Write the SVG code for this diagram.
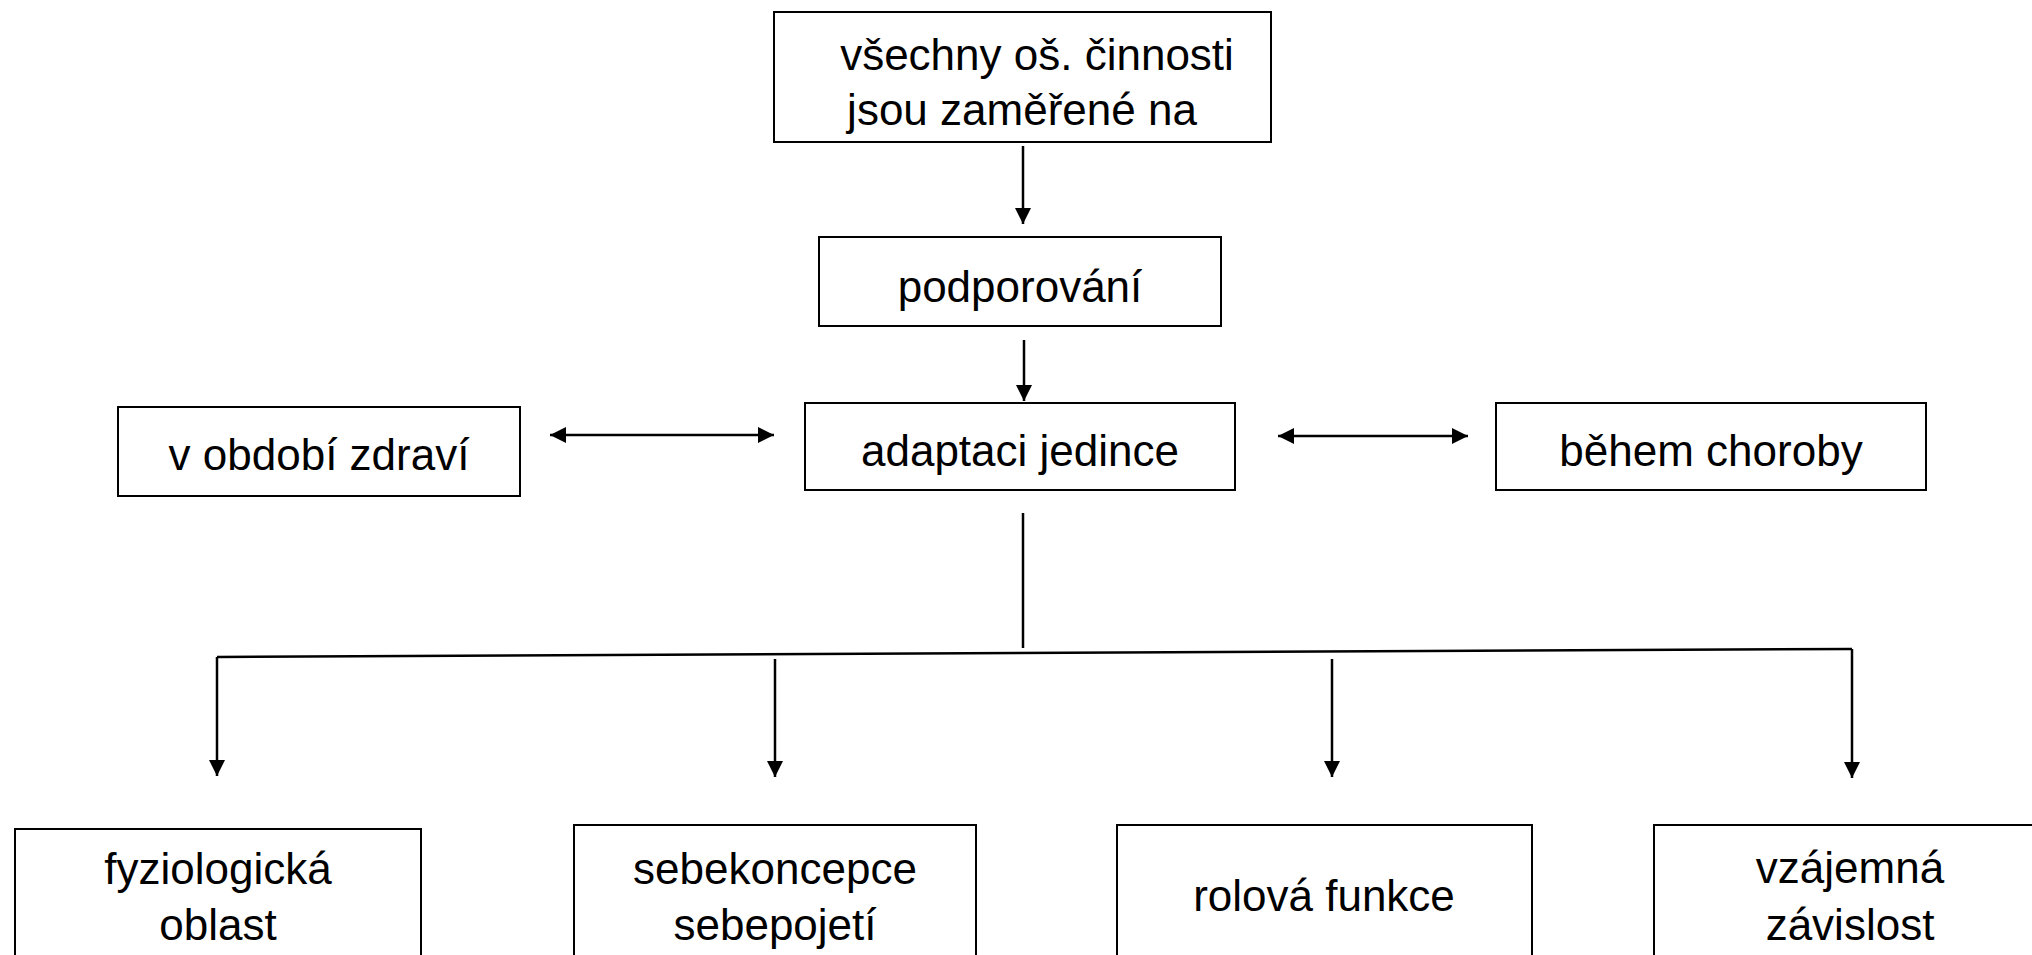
<svg xmlns="http://www.w3.org/2000/svg" width="2032" height="955" viewBox="0 0 2032 955">
<style>
.box{fill:#fff;stroke:#000;stroke-width:2}
.t{font-family:"Liberation Sans",Arial,sans-serif;font-size:44px;fill:#000;text-anchor:middle}
.c{stroke:#000;stroke-width:2.5;fill:none}
.a{marker-end:url(#ah)}
.d{marker-start:url(#ah);marker-end:url(#ah)}
</style>
<defs>
<marker id="ah" viewBox="0 0 16 16" refX="16" refY="8" markerWidth="16" markerHeight="16" markerUnits="userSpaceOnUse" orient="auto-start-reverse">
<path d="M0,0 L16,8 L0,16 z" fill="#000"/>
</marker>
</defs>
<rect width="2032" height="955" fill="#fff"/>
<g id="connectors">
<line class="c a" x1="1023" y1="146" x2="1023" y2="224"/>
<line class="c a" x1="1024" y1="340" x2="1024" y2="401"/>
<line class="c d" x1="550" y1="435" x2="774" y2="435"/>
<line class="c d" x1="1278" y1="436" x2="1468" y2="436"/>
<line class="c" x1="1023" y1="513" x2="1023" y2="648"/>
<line class="c" x1="217" y1="657" x2="1852" y2="649"/>
<line class="c a" x1="217" y1="657" x2="217" y2="776"/>
<line class="c a" x1="775" y1="659" x2="775" y2="777"/>
<line class="c a" x1="1332" y1="659" x2="1332" y2="777"/>
<line class="c a" x1="1852" y1="649" x2="1852" y2="778"/>
</g>
<g id="n-top">
<rect class="box" x="774" y="12" width="497" height="130"/>
<text class="t" x="1037" y="70">všechny oš. činnosti</text>
<text class="t" x="1022" y="125">jsou zaměřené na</text>
</g>
<g id="n-podporovani">
<rect class="box" x="819" y="237" width="402" height="89"/>
<text class="t" x="1020" y="302">podporování</text>
</g>
<g id="n-adaptaci">
<rect class="box" x="805" y="403" width="430" height="87"/>
<text class="t" x="1020" y="466">adaptaci jedince</text>
</g>
<g id="n-zdravi">
<rect class="box" x="118" y="407" width="402" height="89"/>
<text class="t" x="319" y="470">v období zdraví</text>
</g>
<g id="n-choroby">
<rect class="box" x="1496" y="403" width="430" height="87"/>
<text class="t" x="1711" y="466">během choroby</text>
</g>
<g id="n-fyzio">
<rect class="box" x="15" y="829" width="406" height="200"/>
<text class="t" x="218" y="884">fyziologická</text>
<text class="t" x="218" y="940">oblast</text>
</g>
<g id="n-sebe">
<rect class="box" x="574" y="825" width="402" height="200"/>
<text class="t" x="775" y="884">sebekoncepce</text>
<text class="t" x="775" y="940">sebepojetí</text>
</g>
<g id="n-role">
<rect class="box" x="1117" y="825" width="415" height="200"/>
<text class="t" x="1324" y="911">rolová funkce</text>
</g>
<g id="n-vzajem">
<rect class="box" x="1654" y="825" width="392" height="200"/>
<text class="t" x="1850" y="883">vzájemná</text>
<text class="t" x="1850" y="940">závislost</text>
</g>
</svg>
